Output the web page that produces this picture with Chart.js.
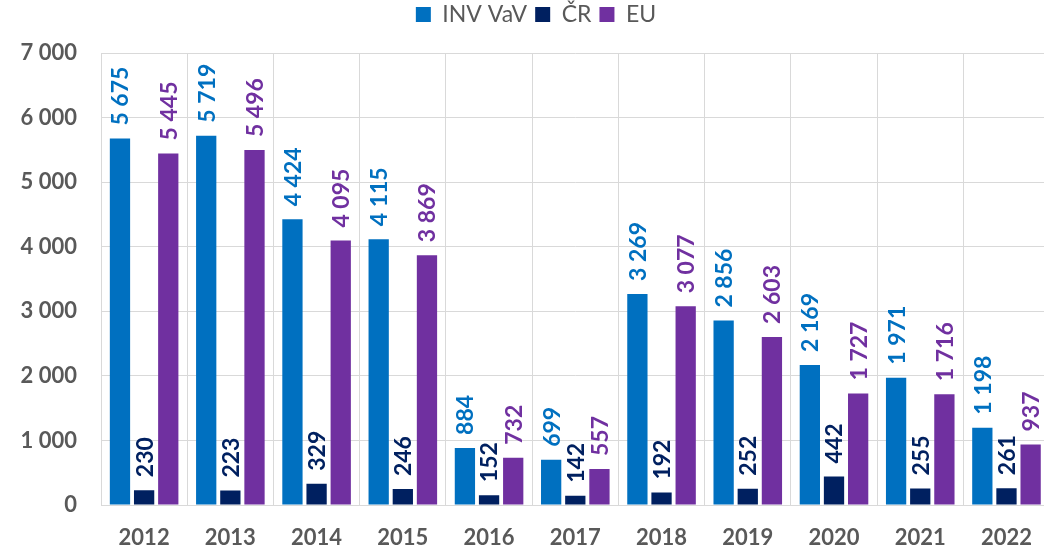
<!DOCTYPE html>
<html>
<head>
<meta charset="utf-8">
<script src="https://cdn.jsdelivr.net/npm/chart.js@4/dist/chart.umd.min.js"></script>
<style>
  html, body { margin: 0; padding: 0; background: #fff; overflow: hidden; }
  #wrap { position: relative; width: 1052px; height: 555px; }
</style>
</head>
<body>
<div id="wrap"><canvas id="chart"></canvas></div>
<script>
const years = ['2012', '2013', '2014', '2015', '2016', '2017', '2018', '2019', '2020', '2021', '2022'];
const invVav = [5675, 5719, 4424, 4115, 884, 699, 3269, 2856, 2169, 1971, 1198];
const cr = [230, 223, 329, 246, 152, 142, 192, 252, 442, 255, 261];
const eu = [5445, 5496, 4095, 3869, 732, 557, 3077, 2603, 1727, 1716, 937];

const FONT = 'Lato, "Open Sans", sans-serif';
const GRAY = '#595959';
const GRID = '#d9d9d9';

// "5675" -> "5 675"
const fmt = (v) => String(v).replace(/\B(?=(\d{3})+(?!\d))/g, ' ');

// vertical value labels above each bar
const barLabels = {
  id: 'barLabels',
  afterDatasetsDraw(chart) {
    const ctx = chart.ctx;
    chart.data.datasets.forEach((ds, i) => {
      const meta = chart.getDatasetMeta(i);
      meta.data.forEach((bar, j) => {
        ctx.save();
        ctx.translate(bar.x, bar.y - 13);
        ctx.rotate(-Math.PI / 2);
        ctx.font = 'bold 23px ' + FONT;
        ctx.fillStyle = ds.labelColor;
        ctx.textAlign = 'left';
        ctx.textBaseline = 'middle';
        ctx.fillText(fmt(ds.data[j]), 0, 1);
        ctx.restore();
      });
    });
  },
};

// fixed legend height so the plot starts at the 7 000 line,
// and the legend row sits a little right of centre
const legendBox = {
  id: 'legendBox',
  afterInit(chart) {
    const fit = chart.legend.fit;
    chart.legend.fit = function () {
      fit.call(this);
      this.height = 58;
    };
  },
  afterLayout(chart) {
    chart.legend.left += 20;
  },
};

new Chart(document.getElementById('chart'), {
  type: 'bar',
  data: {
    labels: years,
    datasets: [
      { label: 'INV VaV', data: invVav, backgroundColor: '#0070C0', labelColor: '#0070C0' },
      { label: 'ČR', data: cr, backgroundColor: '#002060', labelColor: '#002060' },
      { label: 'EU', data: eu, backgroundColor: '#7030A0', labelColor: '#7030A0' },
    ],
  },
  plugins: [barLabels, legendBox],
  options: {
    responsive: true,
    maintainAspectRatio: false,
    animation: false,
    layout: { padding: { top: -5, right: 0, bottom: 0, left: 0 } },
    datasets: {
      bar: { categoryPercentage: 0.84, barPercentage: 0.84 },
    },
    plugins: {
      tooltip: { enabled: false },
      legend: {
        position: 'top',
        align: 'center',
        labels: {
          color: GRAY,
          boxWidth: 15,
          boxHeight: 15,
          padding: 8,
          font: { family: FONT, size: 23 },
        },
      },
    },
    scales: {
      x: {
        afterFit(scale) { scale.height = 50; },
        grid: { color: GRID, drawTicks: false, offset: true },
        border: { color: GRID },
        ticks: { color: GRAY, padding: 20, font: { family: FONT, size: 22, weight: 'bold' } },
      },
      y: {
        min: 0,
        max: 7000,
        afterFit(scale) { scale.width = 101; },
        grid: { color: GRID, drawTicks: false },
        border: { display: false },
        ticks: {
          stepSize: 1000,
          color: GRAY,
          padding: 24,
          font: { family: FONT, size: 22, weight: 'bold' },
          callback: (v) => fmt(v),
        },
      },
    },
  },
});
</script>
</body>
</html>
